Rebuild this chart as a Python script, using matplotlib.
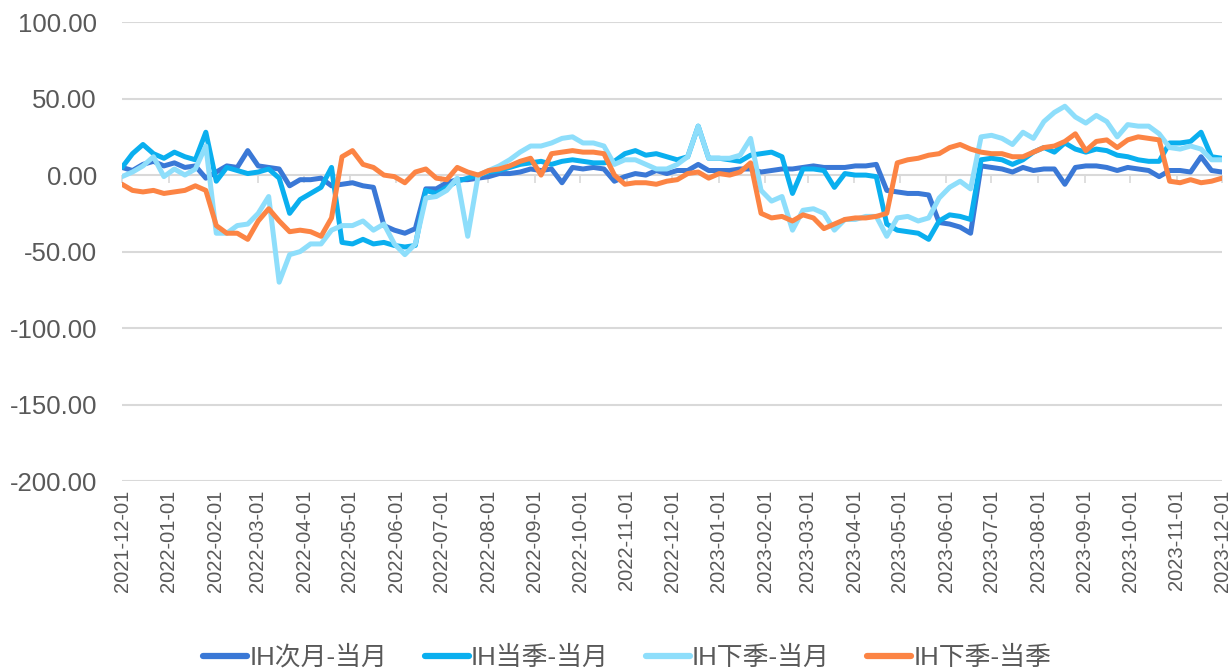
import matplotlib
matplotlib.use("Agg")
import matplotlib.pyplot as plt
import matplotlib.dates as mdates
import pandas as pd

plt.rcParams['font.family'] = ['Liberation Sans', 'Noto Sans CJK SC', 'DejaVu Sans']

dates = pd.date_range('2021-12-01', '2023-12-01', periods=106)

labels = ['IH次月-当月', 'IH当季-当月', 'IH下季-当月', 'IH下季-当季']

ih_next_cur = [
    5, 3, 7, 9, 6, 8, 5, 6, -2, 2,
    6, 5, 16, 6, 5, 4, -7, -3, -3, -2,
    -7, -6, -5, -7, -8, -33, -36, -38, -35, -9,
    -9, -5, -3, -3, -2, -1, 1, 1, 2, 4,
    3, 4, -5, 5, 4, 5, 4, -4, -1, 1,
    0, 3, 1, 3, 3, 7, 3, 3, 3, 4,
    4, 2, 3, 4, 4, 5, 6, 5, 5, 5,
    6, 6, 7, -10, -11, -12, -12, -13, -31, -32,
    -34, -38, 6, 5, 4, 2, 5, 3, 4, 4,
    -6, 5, 6, 6, 5, 3, 5, 4, 3, -1,
    3, 3, 2, 12, 3, 2]

ih_q_cur = [
    5, 14, 20, 14, 11, 15, 12, 10, 28, -4,
    5, 3, 1, 2, 4, -2, -25, -16, -12, -8,
    5, -44, -45, -42, -45, -44, -46, -47, -46, -10,
    -12, -8, -4, -2, 0, 2, 3, 5, 7, 8,
    9, 7, 9, 10, 9, 8, 8, 9, 14, 16,
    13, 14, 12, 10, 12, 32, 11, 11, 10, 9,
    13, 14, 15, 12, -12, 4, 4, 3, -8, 1,
    0, 0, -1, -32, -36, -37, -38, -42, -30, -26,
    -27, -29, 10, 11, 10, 7, 10, 15, 18, 15,
    21, 17, 15, 17, 16, 13, 12, 10, 9, 9,
    21, 21, 22, 28, 12, 11]

ih_nq_cur = [
    -1, 2, 6, 12, -1, 4, 0, 4, 19, -38,
    -38, -33, -32, -25, -14, -70, -52, -50, -45, -45,
    -36, -33, -33, -30, -36, -32, -45, -52, -45, -15,
    -14, -10, -2, -40, 0, 3, 6, 10, 15, 19,
    19, 21, 24, 25, 21, 21, 19, 7, 10, 10,
    7, 4, 4, 7, 12, 32, 11, 11, 11, 13,
    24, -10, -17, -14, -36, -23, -22, -25, -36, -29,
    -29, -27, -27, -40, -28, -27, -30, -28, -15, -8,
    -4, -9, 25, 26, 24, 20, 28, 24, 35, 41,
    45, 38, 34, 39, 35, 25, 33, 32, 32, 27,
    18, 17, 19, 17, 10, 10]

ih_nq_q = [
    -6, -10, -11, -10, -12, -11, -10, -7, -10, -33,
    -38, -38, -42, -30, -22, -30, -37, -36, -37, -40,
    -28, 12, 16, 7, 5, 0, -1, -5, 2, 4,
    -2, -3, 5, 2, 0, 3, 4, 6, 9, 11,
    0, 14, 15, 16, 15, 15, 14, 0, -6, -5,
    -5, -6, -4, -3, 1, 2, -2, 1, 0, 2,
    8, -25, -28, -27, -30, -26, -28, -35, -32, -29,
    -28, -28, -27, -25, 8, 10, 11, 13, 14, 18,
    20, 17, 15, 14, 14, 12, 12, 15, 18, 19,
    22, 27, 16, 22, 23, 18, 23, 25, 24, 23,
    -4, -5, -3, -5, -4, -2]

series = [ih_next_cur, ih_q_cur, ih_nq_cur, ih_nq_q]
colors = ['#3A78D6', '#0AAFEF', '#8EDEFB', '#FC8444']

fig = plt.figure(figsize=(12.3, 6.7), dpi=100)
ax = fig.add_axes([0.0992, 0.282, 0.8943, 0.685])

for vals, lab, col in zip(series, labels, colors):
    ax.plot(dates, vals, color=col, lw=3.6, label=lab, solid_joinstyle='round',
            solid_capstyle='round')

ax.set_ylim(-200, 100)
ax.set_yticks([100, 50, 0, -50, -100, -150, -200])
ax.yaxis.set_major_formatter(matplotlib.ticker.FormatStrFormatter('%.2f'))
ax.set_xlim(pd.Timestamp('2021-12-01'), pd.Timestamp('2023-12-01'))
ax.xaxis.set_major_locator(mdates.MonthLocator())
ax.xaxis.set_major_formatter(mdates.DateFormatter('%Y-%m-%d'))

ax.grid(axis='y', color='#D9D9D9', lw=1.5)
ax.set_axisbelow(True)
for s in ax.spines.values():
    s.set_visible(False)
ax.tick_params(axis='y', length=0, labelsize=18.5, labelcolor='#595959', pad=18)
ax.tick_params(axis='x', length=0, labelsize=14.5, labelcolor='#595959',
               labelrotation=90, pad=6)

sec = ax.secondary_xaxis(2 / 3)
sec.xaxis.set_major_locator(mdates.MonthLocator())
sec.tick_params(axis='x', direction='out', length=6, width=1.2, color='#D9D9D9',
                labelbottom=False, labeltop=False, bottom=True, top=False)
sec.spines['top'].set_visible(False)
sec.spines['bottom'].set_visible(False)

leg = fig.legend(loc='center', bbox_to_anchor=(0.51, 0.019), ncol=4, frameon=False,
                 fontsize=18.6, handlelength=1.7, handletextpad=0.08, columnspacing=1.45)
for t in leg.get_texts():
    t.set_color('#595959')
for h in leg.get_lines():
    h.set_linewidth(4.5)

fig.savefig('out.png', dpi=100)
